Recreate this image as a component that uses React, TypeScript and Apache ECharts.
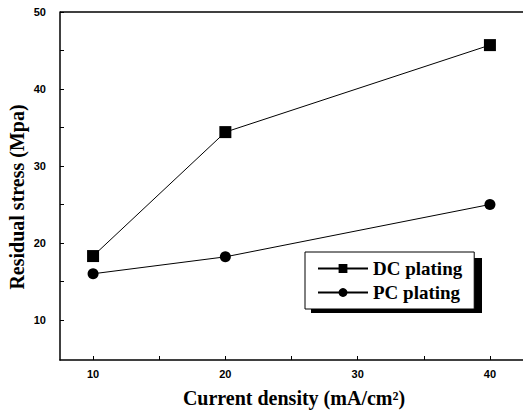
import React, { useEffect, useRef } from "react";
import * as echarts from "echarts";

const currentDensity = [10, 20, 40];
const dcPlating = [18.3, 34.4, 45.7];
const pcPlating = [16.0, 18.2, 25.0];
const xLabelValues = [10, 20, 30, 40];
const xTickValues = [10, 15, 20, 25, 30, 35, 40];
const yLabelValues = [10, 20, 30, 40, 50];
const yTickValues = [10, 15, 20, 25, 30, 35, 40, 45, 50];

export default function App() {
  const ref = useRef<HTMLDivElement>(null);
  useEffect(() => {
    if (!ref.current) return;
    const chart = echarts.init(ref.current, null, { renderer: "svg" });
    const serifBold = { fontFamily: "Liberation Serif", fontWeight: "bold" as const, color: "#000" };
    chart.setOption({
      animation: false,
      backgroundColor: "#fff",
      grid: { left: 60, right: -3, top: 12, bottom: 60 },
      xAxis: {
        type: "value",
        min: 7.5,
        max: 42.5,
        axisLine: { show: true, onZero: false, lineStyle: { color: "#000", width: 1.5 } },
        axisTick: { show: true, inside: true, length: 4, customValues: xTickValues, lineStyle: { color: "#000" } },
        axisLabel: { customValues: xLabelValues, color: "#000", fontFamily: "Liberation Sans", fontWeight: "bold", fontSize: 11, margin: 8 },
        splitLine: { show: false },
      },
      yAxis: [
        {
          type: "value",
          min: 4.8,
          max: 50,
          axisLine: { show: true, onZero: false, lineStyle: { color: "#000", width: 1.5 } },
          axisTick: { show: true, inside: true, length: 4, customValues: yTickValues, lineStyle: { color: "#000" } },
          axisLabel: { customValues: yLabelValues, color: "#000", fontFamily: "Liberation Sans", fontWeight: "bold", fontSize: 11, margin: 14 },
          splitLine: { show: false },
        },
      ],
      graphic: [
        {
          type: "line",
          shape: { x1: 60, y1: 12, x2: 523, y2: 12 },
          style: { stroke: "#000", lineWidth: 1.5 },
          silent: true,
        },
        {
          type: "rect",
          shape: { x: 311, y: 258, width: 171, height: 55 },
          style: { fill: "#000" },
          z: 1,
          silent: true,
        },
        {
          type: "text",
          x: 17,
          y: 197,
          rotation: Math.PI / 2,
          style: {
            text: "Residual stress (Mpa)",
            font: "bold 20px 'Liberation Serif'",
            fill: "#000",
            align: "center",
            verticalAlign: "middle",
          },
        },
        {
          type: "text",
          x: 294,
          y: 398,
          style: {
            text: "Current density (mA/cm²)",
            font: "bold 20px 'Liberation Serif'",
            fill: "#000",
            align: "center",
            verticalAlign: "middle",
          },
        },
      ],
      legend: {
        orient: "vertical",
        left: 305,
        top: 252,
        width: 147,
        z: 10,
        itemWidth: 50,
        itemHeight: 11,
        itemGap: 5,
        padding: [7, 12, 7, 12],
        backgroundColor: "#fff",
        borderColor: "#000",
        borderWidth: 1,
        textStyle: { ...serifBold, fontSize: 19, width: 92 },
        data: ["DC plating", "PC plating"],
      },
      series: [
        {
          name: "DC plating",
          type: "line",
          data: currentDensity.map((x, i) => [x, dcPlating[i]]),
          symbol: "rect",
          symbolSize: 12,
          itemStyle: { color: "#000" },
          lineStyle: { color: "#000", width: 1 },
        },
        {
          name: "PC plating",
          type: "line",
          data: currentDensity.map((x, i) => [x, pcPlating[i]]),
          symbol: "circle",
          symbolSize: 11,
          itemStyle: { color: "#000" },
          lineStyle: { color: "#000", width: 1 },
        },
      ],
    });
    return () => chart.dispose();
  }, []);
  return (
    <div
      ref={ref}
      style={{ position: "fixed", left: 0, top: 0, width: 523, height: 420, background: "#fff" }}
    />
  );
}
